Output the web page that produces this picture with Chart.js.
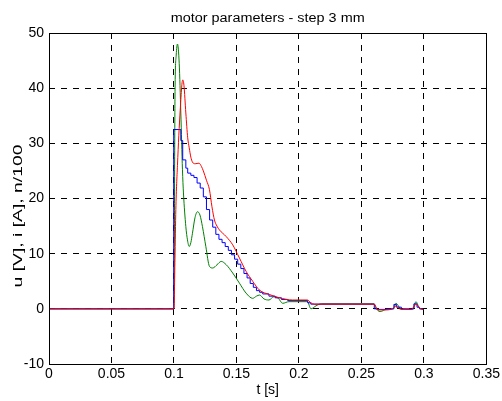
<!DOCTYPE html>
<html>
<head>
<meta charset="utf-8">
<script src="https://cdn.jsdelivr.net/npm/chart.js@4.4.1/dist/chart.umd.min.js"></script>
<style>
  html, body { margin: 0; padding: 0; background: #fff; }
  #wrap { width: 502px; height: 401px; }
</style>
</head>
<body>
<div id="wrap"><canvas id="chart" width="502" height="401"></canvas></div>
<script>
const titleText = 'motor parameters - step 3 mm';
const xTitle = 't [s]';
const yTitle = 'u [V], i [A], n/100';

const xTicks = [0, 0.05, 0.1, 0.15, 0.2, 0.25, 0.3, 0.35];
const yTicks = [-10, 0, 10, 20, 30, 40, 50];

// u [V] (green)
const uT = [0, 0.0998, 0.1002, 0.1008, 0.1018, 0.1028, 0.1042, 0.1055, 0.1068, 0.1076, 0.1095, 0.1108, 0.1122, 0.1135, 0.1148, 0.1168, 0.1188, 0.1208, 0.1228, 0.1255, 0.1284, 0.131, 0.1345, 0.1378, 0.1418, 0.147, 0.1524, 0.1577, 0.163, 0.166, 0.1685, 0.172, 0.176, 0.18, 0.1835, 0.187, 0.192, 0.2, 0.2068, 0.2096, 0.2137, 0.218, 0.2603, 0.2615, 0.265, 0.27, 0.2755, 0.2776, 0.2816, 0.29, 0.2915, 0.2936, 0.2965, 0.2995];
const uV = [0, 0, 6, 38, 46, 48, 44.5, 35.5, 25.2, 21, 14.9, 12.5, 11.3, 12, 13.7, 16.5, 17.6, 17, 14.9, 11.3, 7.7, 7.4, 8.0, 8.6, 8.0, 6.5, 4.65, 2.85, 1.9, 2.3, 2.5, 1.8, 1.6, 2.2, 1.9, 1.0, 1.3, 1.3, 1.3, 0.0, 0.55, 0.9, 0.9, 0.2, -0.5, -0.1, 0, 1.0, 0, -0.1, 0, 1.3, 0.1, -0.1];

// i [A] (blue, sampled -> stairs)
const iT = [0, 0.0998, 0.1055, 0.107, 0.1095, 0.111, 0.1135, 0.116, 0.1185, 0.121, 0.1235, 0.126, 0.1285, 0.131, 0.1335, 0.136, 0.1385, 0.141, 0.1435, 0.146, 0.1485, 0.151, 0.1535, 0.156, 0.1585, 0.161, 0.1635, 0.166, 0.1685, 0.171, 0.176, 0.181, 0.186, 0.191, 0.2, 0.207, 0.2095, 0.2603, 0.2625, 0.27, 0.276, 0.278, 0.282, 0.292, 0.2945, 0.2965, 0.2995];
const iV = [0, 32.5, 30.5, 27, 25.5, 24.6, 24.2, 23.8, 22.8, 21.9, 20.3, 18, 16.1, 14.8, 13.5, 12.6, 12, 11.3, 10.6, 9.8, 9, 8.1, 7.3, 6.4, 5.6, 4.6, 3.9, 3.3, 3.0, 2.7, 2.3, 2.0, 1.7, 1.5, 1.5, 1.1, 0.85, 0.0, -0.1, 0, 0.8, 0.3, 0, 0.9, 0.3, 0, 0];

// n/100 (red)
const nT = [0, 0.1, 0.1008, 0.1015, 0.1028, 0.105, 0.107, 0.108, 0.1095, 0.111, 0.1122, 0.1135, 0.1148, 0.117, 0.12, 0.122, 0.1235, 0.126, 0.1284, 0.1304, 0.1324, 0.1344, 0.1364, 0.1418, 0.147, 0.1524, 0.1577, 0.163, 0.1684, 0.1764, 0.1844, 0.195, 0.2068, 0.2095, 0.2123, 0.2603, 0.263, 0.268, 0.274, 0.2776, 0.2816, 0.29, 0.2936, 0.297, 0.2995];
const nV = [0, 0, 9, 18, 26, 36, 41.5, 40.5, 35.5, 31, 29.2, 27.5, 26.6, 26.3, 26.4, 25.8, 25, 23.3, 21.6, 18.5, 16.1, 15, 14.3, 13.1, 11.6, 9.2, 6.8, 5, 3.4, 2.6, 2.0, 1.6, 1.6, 1.1, 0.85, 0.85, -0.2, -0.2, -0.1, 0.5, -0.1, -0.1, 0.8, 0.1, -0.1];

const FONT = "'Liberation Sans', Arial, sans-serif";

const pts = (ts, vs) => ts.map((t, k) => ({ x: t, y: vs[k] }));
const fmt = v => String(Number(v.toFixed(2)));

// draw text squeezed/stretched to a given length (matlab export looks wide)
function wideText(ctx, txt, x, y, len, rot, size) {
  ctx.save();
  ctx.font = size + 'px ' + FONT;
  const w = ctx.measureText(txt).width;
  ctx.translate(x, y);
  ctx.rotate(rot);
  ctx.scale(len / w, 1);
  ctx.textAlign = 'center';
  ctx.textBaseline = 'alphabetic';
  ctx.fillStyle = '#000';
  ctx.fillText(txt, 0, 0);
  ctx.restore();
}

const frame = {
  id: 'frame',
  afterDraw(chart) {
    const { ctx, chartArea: a } = chart;
    ctx.save();
    ctx.strokeStyle = '#000';
    ctx.lineWidth = 1;
    ctx.setLineDash([]);
    ctx.strokeRect(Math.round(a.left) + 0.5, Math.round(a.top) + 0.5,
      Math.round(a.right - a.left), Math.round(a.bottom - a.top));
    ctx.restore();
    wideText(ctx, titleText, (a.left + a.right) / 2, 22, 194, 0, 12);
    wideText(ctx, yTitle, 22, 216, 143, -Math.PI / 2, 13);
  }
};

new Chart(document.getElementById('chart'), {
  type: 'line',
  data: {
    datasets: [
      { label: 'n/100', data: pts(nT, nV), borderColor: '#ff0000', order: 0, cubicInterpolationMode: 'monotone' },
      { label: 'i [A]', data: pts(iT, iV), borderColor: '#0000ff', order: 1, stepped: true },
      { label: 'u [V]', data: pts(uT, uV), borderColor: '#008000', order: 2, cubicInterpolationMode: 'monotone' }
    ]
  },
  options: {
    responsive: false,
    animation: false,
    devicePixelRatio: 1,
    layout: { padding: { top: 33, right: 15, left: 0, bottom: 0 } },
    elements: { point: { radius: 0 }, line: { borderWidth: 1, fill: false } },
    plugins: { legend: { display: false }, tooltip: { enabled: false }, title: { display: false } },
    scales: {
      x: {
        type: 'linear', min: 0, max: 0.35,
        afterBuildTicks: s => { s.ticks = xTicks.map(v => ({ value: v })); },
        afterFit: s => { s.height = 37; },
        ticks: { callback: v => fmt(v), color: '#000', font: { family: FONT, size: 14 }, padding: 2, maxRotation: 0, autoSkip: false },
        grid: { color: '#000', drawTicks: false, lineWidth: 1 },
        border: { display: false, dash: [6, 6] },
        title: { display: true, text: xTitle, color: '#000', font: { family: FONT, size: 14 }, padding: { top: 0, bottom: 2 } }
      },
      y: {
        min: -10, max: 50,
        afterBuildTicks: s => { s.ticks = yTicks.map(v => ({ value: v })); },
        afterFit: s => { s.width = 49; },
        ticks: { callback: v => fmt(v), color: '#000', font: { family: FONT, size: 14 }, padding: 5 },
        grid: { color: '#000', drawTicks: false, lineWidth: 1 },
        border: { display: false, dash: [6, 6] }
      }
    }
  },
  plugins: [frame]
});
</script>
</body>
</html>
